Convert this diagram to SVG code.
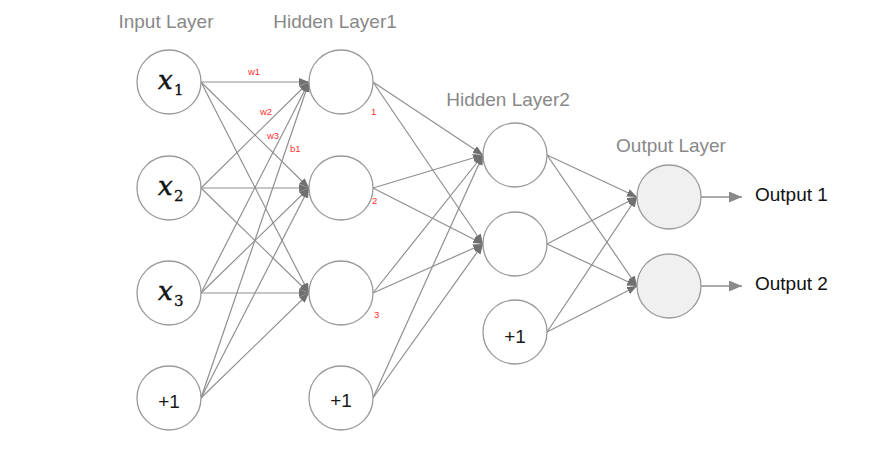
<svg xmlns="http://www.w3.org/2000/svg" width="886" height="455" viewBox="0 0 886 455">
<defs>
<style>
.node{fill:#ffffff;stroke:#9a9a9a;stroke-width:1.3}
.out{fill:#f0f0f0;stroke:#9a9a9a;stroke-width:1.3}
.title{font-family:"Liberation Sans",Arial,sans-serif;font-size:19px;fill:#888888;text-anchor:middle}
.lbl{font-family:"Liberation Sans",Arial,sans-serif;font-size:19px;fill:#1a1a1a;text-anchor:middle}
.olbl{font-family:"Liberation Sans",Arial,sans-serif;font-size:19px;fill:#111}
.math{font-family:"DejaVu Serif","Liberation Serif",serif;font-style:italic;font-size:26px;fill:#111;stroke:#111;stroke-width:0.5}
.sub{font-family:"DejaVu Serif","Liberation Serif",serif;font-style:normal;font-size:15px;fill:#111;stroke:#111;stroke-width:0.3}
.red{font-family:"Liberation Sans",Arial,sans-serif;font-size:9.5px;fill:#ff3030}
.e{stroke:#8f8f8f;stroke-width:1.2;fill:none;marker-end:url(#ah)}
.o{stroke:#8f8f8f;stroke-width:1.4;fill:none;marker-end:url(#oh)}
</style>
<marker id="ah" markerUnits="userSpaceOnUse" markerWidth="11" markerHeight="8" refX="10" refY="4" orient="auto">
<path d="M0,0 L10,4 L0,8 z" fill="#707070"/>
</marker>
<marker id="oh" markerUnits="userSpaceOnUse" markerWidth="14" markerHeight="12" refX="13" refY="5.5" orient="auto">
<path d="M0,0 L13,5.5 L0,11 z" fill="#8a8a8a"/>
</marker>
</defs>
<rect width="886" height="455" fill="#ffffff"/>
<g id="titles">
<text class="title" x="166" y="28">Input Layer</text>
<text class="title" x="335" y="28">Hidden Layer1</text>
<text class="title" x="508" y="106">Hidden Layer2</text>
<text class="title" x="671" y="152">Output Layer</text>
</g>
<g id="connectors">
<line class="e" x1="201" y1="82" x2="309" y2="82"/>
<line class="e" x1="201" y1="82" x2="309" y2="188"/>
<line class="e" x1="201" y1="82" x2="309" y2="293"/>
<line class="e" x1="201" y1="188" x2="309" y2="82"/>
<line class="e" x1="201" y1="188" x2="309" y2="188"/>
<line class="e" x1="201" y1="188" x2="309" y2="293"/>
<line class="e" x1="201" y1="293" x2="309" y2="82"/>
<line class="e" x1="201" y1="293" x2="309" y2="188"/>
<line class="e" x1="201" y1="293" x2="309" y2="293"/>
<line class="e" x1="201" y1="398" x2="309" y2="82"/>
<line class="e" x1="201" y1="398" x2="309" y2="188"/>
<line class="e" x1="201" y1="398" x2="309" y2="293"/>
<line class="e" x1="373" y1="82" x2="483" y2="155"/>
<line class="e" x1="373" y1="82" x2="483" y2="244"/>
<line class="e" x1="373" y1="188" x2="483" y2="155"/>
<line class="e" x1="373" y1="188" x2="483" y2="244"/>
<line class="e" x1="373" y1="293" x2="483" y2="155"/>
<line class="e" x1="373" y1="293" x2="483" y2="244"/>
<line class="e" x1="373" y1="398" x2="483" y2="155"/>
<line class="e" x1="373" y1="398" x2="483" y2="244"/>
<line class="e" x1="547" y1="155" x2="637" y2="197"/>
<line class="e" x1="547" y1="155" x2="637" y2="286"/>
<line class="e" x1="547" y1="244" x2="637" y2="197"/>
<line class="e" x1="547" y1="244" x2="637" y2="286"/>
<line class="e" x1="547" y1="332" x2="637" y2="197"/>
<line class="e" x1="547" y1="332" x2="637" y2="286"/>
<line class="o" x1="701" y1="197" x2="742" y2="197"/>
<line class="o" x1="701" y1="286" x2="742" y2="286"/>
</g>
<g id="weights">
<text class="red" x="248" y="75">w1</text>
<text class="red" x="260" y="115">w2</text>
<text class="red" x="267" y="139">w3</text>
<text class="red" x="290" y="152">b1</text>
<text class="red" x="371" y="115">1</text>
<text class="red" x="372" y="204">2</text>
<text class="red" x="374" y="318">3</text>
</g>
<g id="x1"><circle class="node" cx="169" cy="82" r="32"/><text class="math" x="158" y="89">x</text><text class="sub" x="174" y="95">1</text></g>
<g id="x2"><circle class="node" cx="169" cy="188" r="32"/><text class="math" x="158" y="195">x</text><text class="sub" x="174" y="201">2</text></g>
<g id="x3"><circle class="node" cx="169" cy="293" r="32"/><text class="math" x="158" y="300">x</text><text class="sub" x="174" y="306">3</text></g>
<g id="bias0"><circle class="node" cx="169" cy="398" r="32"/><text class="lbl" x="169" y="408">+1</text></g>
<g id="h1"><circle class="node" cx="341" cy="82" r="32"/></g>
<g id="h2"><circle class="node" cx="341" cy="188" r="32"/></g>
<g id="h3"><circle class="node" cx="341" cy="293" r="32"/></g>
<g id="bias1"><circle class="node" cx="341" cy="398" r="32"/><text class="lbl" x="341" y="407">+1</text></g>
<g id="g1"><circle class="node" cx="515" cy="155" r="32"/></g>
<g id="g2"><circle class="node" cx="515" cy="244" r="32"/></g>
<g id="bias2"><circle class="node" cx="515" cy="332" r="32"/><text class="lbl" x="515" y="343">+1</text></g>
<g id="o1"><circle class="out" cx="669" cy="197" r="32"/></g>
<g id="o2"><circle class="out" cx="669" cy="286" r="32"/></g>
<g id="outputs">
<text class="olbl" x="755" y="201">Output 1</text>
<text class="olbl" x="755" y="290">Output 2</text>
</g>
</svg>
